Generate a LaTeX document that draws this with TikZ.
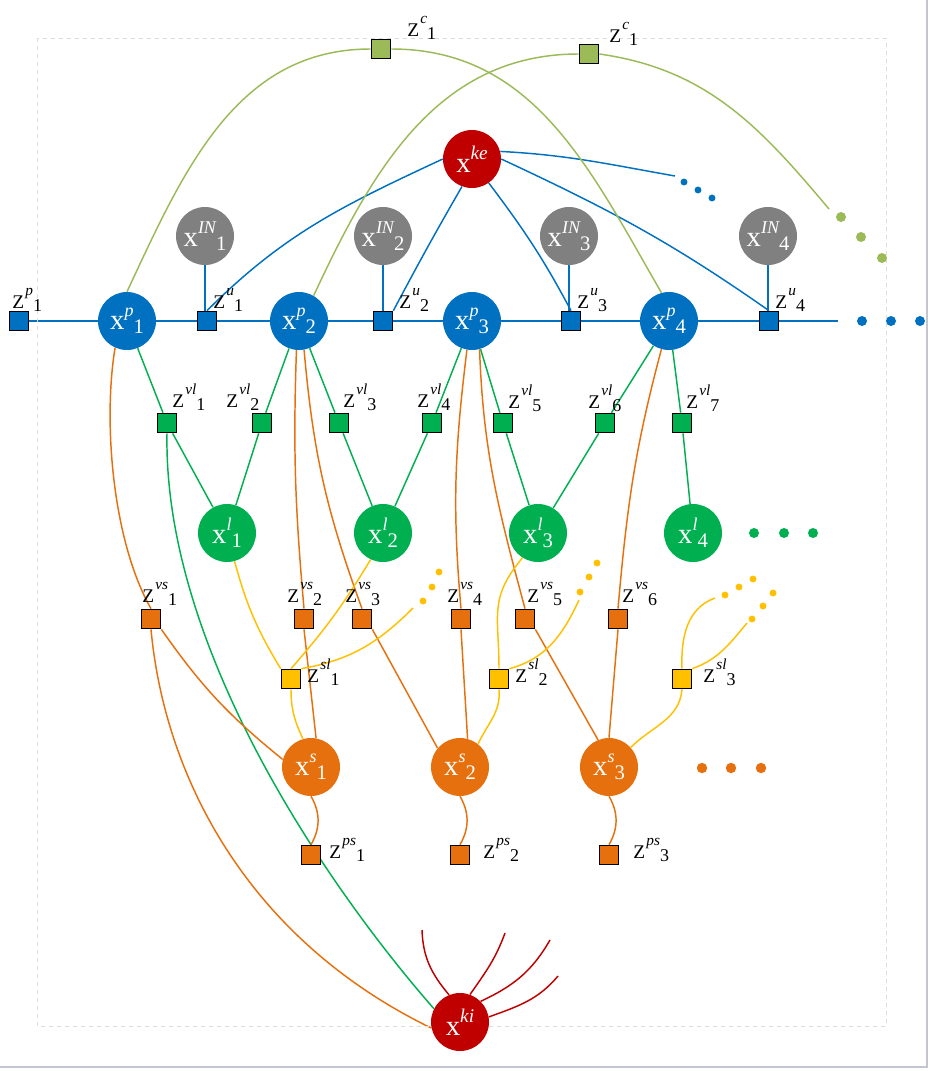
\documentclass[tikz,border=0pt]{standalone}
\usepackage{fontspec}
\setmainfont{Liberation Serif}
\usepackage{tikz}
\usetikzlibrary{
  arrows.meta,
  positioning,
  calc
}
\pgfdeclarelayer{background}
\pgfsetlayers{background,main}
\definecolor{pblue}{RGB}{0, 112, 192}
\definecolor{kred}{RGB}{192, 0, 0}
\definecolor{ingray}{RGB}{128, 128, 128}
\definecolor{lgreen}{RGB}{0, 176, 80}
\definecolor{cgreen}{RGB}{155, 187, 89}
\definecolor{sorange}{RGB}{230, 112, 14}
\definecolor{syellow}{RGB}{255, 192, 0}
\definecolor{framegray}{RGB}{220, 220, 220}
\definecolor{wingray}{RGB}{195, 198, 208}
\newcommand{\vx}[2]{x\raisebox{10pt}{\fontsize{13.5}{13.5}\selectfont\itshape #1}\raisebox{-3pt}{\fontsize{15.5}{15.5}\selectfont #2}}
\newcommand{\zl}[2]{Z\kern1pt\raisebox{9.5pt}{\fontsize{11.5}{11.5}\selectfont\itshape #1}\raisebox{-2.3pt}{\fontsize{13.5}{13.5}\selectfont #2}}
\tikzset{
  vnode/.style = {
    circle, fill=#1, draw=none, minimum size=43.5pt,
    inner sep=0pt, text=white, font=\fontsize{21.5}{21.5}\selectfont
  },
  fsq/.style = {
    rectangle, draw=black, line width=1pt, fill=#1,
    minimum size=14.5pt, inner sep=0pt
  },
  zlbl/.style = {anchor=base west, inner sep=0pt, font=\fontsize{14.5}{14.5}\selectfont},
  wire/.style = {draw=#1, line width=1.1pt},
}

\begin{document}
\begin{tikzpicture}[x=0.75pt, y=-0.75pt]
  \useasboundingbox (0,0) rectangle (929,1071);
  \draw[framegray, dashed, line width=0.5pt] (37,38) rectangle (886,1026);
  \draw[wingray, line width=1.5pt] (927,0) -- (927,1067) -- (0,1067);

  % unit row
  \node[fsq=pblue] (zp1) at (19,321) {};
  \node[vnode=pblue] (xp1) at (127,321) {\vx{p}{1}};
  \node[fsq=pblue] (zu1) at (207,321) {};
  \node[vnode=pblue] (xp2) at (299,321) {\vx{p}{2}};
  \node[fsq=pblue] (zu2) at (383,321) {};
  \node[vnode=pblue] (xp3) at (472,321) {\vx{p}{3}};
  \node[fsq=pblue] (zu3) at (571,321) {};
  \node[vnode=pblue] (xp4) at (669,321) {\vx{p}{4}};
  \node[fsq=pblue] (zu4) at (769,321) {};
  \coordinate (pend) at (838,321);

  % inflow nodes
  \node[vnode=ingray] (xin1) at (205,236) {\vx{IN}{1}};
  \node[vnode=ingray] (xin2) at (383,236) {\vx{IN}{2}};
  \node[vnode=ingray] (xin3) at (569,236) {\vx{IN}{3}};
  \node[vnode=ingray] (xin4) at (768,236) {\vx{IN}{4}};

  % top
  \node[vnode=kred] (xke) at (472,159) {x\raisebox{10pt}{\fontsize{14.5}{14.5}\selectfont\itshape ke}};
  \node[fsq=cgreen] (zc1a) at (381,49) {};
  \node[fsq=cgreen] (zc1b) at (589,54) {};
  \coordinate (cgend) at (829,209);
  \coordinate (kedots) at (675,176);

  % line factors and line nodes
  \node[fsq=lgreen] (vl1) at (167,423) {};
  \node[fsq=lgreen] (vl2) at (262,423) {};
  \node[fsq=lgreen] (vl3) at (339,423) {};
  \node[fsq=lgreen] (vl4) at (432,423) {};
  \node[fsq=lgreen] (vl5) at (503,423) {};
  \node[fsq=lgreen] (vl6) at (605,423) {};
  \node[fsq=lgreen] (vl7) at (682,423) {};
  \node[vnode=lgreen] (xl1) at (227,533) {\vx{l}{1}};
  \node[vnode=lgreen] (xl2) at (383,533) {\vx{l}{2}};
  \node[vnode=lgreen] (xl3) at (538,533) {\vx{l}{3}};
  \node[vnode=lgreen] (xl4) at (693,533) {\vx{l}{4}};

  % station factors
  \node[fsq=sorange] (vs1) at (151,619) {};
  \node[fsq=sorange] (vs2) at (304,619) {};
  \node[fsq=sorange] (vs3) at (362,619) {};
  \node[fsq=sorange] (vs4) at (461,619) {};
  \node[fsq=sorange] (vs5) at (525,619) {};
  \node[fsq=sorange] (vs6) at (618,619) {};
  \node[fsq=syellow] (sl1) at (291,679) {};
  \node[fsq=syellow] (sl2) at (499,679) {};
  \node[fsq=syellow] (sl3) at (682,679) {};
  \coordinate (y1end) at (413,608);
  \coordinate (y2end) at (579,600);
  \coordinate (y3aend) at (715,598);
  \coordinate (y3bend) at (747,623);

  % station nodes
  \node[vnode=sorange] (xs1) at (311,767) {\vx{s}{1}};
  \node[vnode=sorange] (xs2) at (460,767) {\vx{s}{2}};
  \node[vnode=sorange] (xs3) at (609,767) {\vx{s}{3}};
  \node[fsq=sorange] (ps1) at (311,855) {};
  \node[fsq=sorange] (ps2) at (460,855) {};
  \node[fsq=sorange] (ps3) at (609,855) {};

  % bottom
  \node[vnode=kred] (xki) at (460,1022) {x\raisebox{10pt}{\fontsize{14.5}{14.5}\selectfont\itshape ki}};
  \coordinate (k1) at (422,930);
  \coordinate (k2) at (505,933);
  \coordinate (k3) at (550,940);
  \coordinate (k4) at (558,976);

  % labels
  \node[zlbl] (lzp1) at (12,308) {\zl{p}{1}};
  \node[zlbl] (lzu1) at (213,308) {\zl{u}{1}};
  \node[zlbl] (lzu2) at (399,308) {\zl{u}{2}};
  \node[zlbl] (lzu3) at (577,308) {\zl{u}{3}};
  \node[zlbl] (lzu4) at (775,308) {\zl{u}{4}};
  \node[zlbl] (lzc1a) at (407,36) {\zl{c}{1}};
  \node[zlbl] (lzc1b) at (609,42) {\zl{c}{1}};
  \node[zlbl] (lvl1) at (172,407) {\zl{vl}{1}};
  \node[zlbl] (lvl2) at (226,407) {\zl{vl}{2}};
  \node[zlbl] (lvl3) at (343,407) {\zl{vl}{3}};
  \node[zlbl] (lvl4) at (417,407) {\zl{vl}{4}};
  \node[zlbl] (lvl5) at (508,408) {\zl{vl}{5}};
  \node[zlbl] (lvl6) at (588,408) {\zl{vl}{6}};
  \node[zlbl] (lvl7) at (686,408) {\zl{vl}{7}};
  \node[zlbl] (lvs1) at (142,602) {\zl{vs}{1}};
  \node[zlbl] (lvs2) at (287,602) {\zl{vs}{2}};
  \node[zlbl] (lvs3) at (345,602) {\zl{vs}{3}};
  \node[zlbl] (lvs4) at (447,602) {\zl{vs}{4}};
  \node[zlbl] (lvs5) at (527,602) {\zl{vs}{5}};
  \node[zlbl] (lvs6) at (622,602) {\zl{vs}{6}};
  \node[zlbl] (lsl1) at (307,682) {\zl{sl}{1}};
  \node[zlbl] (lsl2) at (515,682) {\zl{sl}{2}};
  \node[zlbl] (lsl3) at (703,682) {\zl{sl}{3}};
  \node[zlbl] (lps1) at (329,858) {\zl{ps}{1}};
  \node[zlbl] (lps2) at (483,858) {\zl{ps}{2}};
  \node[zlbl] (lps3) at (633,858) {\zl{ps}{3}};

  % dots
  \fill[pblue] (862,321) circle[radius=3.75pt] (891,321) circle[radius=3.75pt] (920,321) circle[radius=3.75pt];
  \fill[pblue] (684,182) circle[radius=2.6pt] (698,190) circle[radius=2.6pt] (712,198) circle[radius=2.6pt];
  \fill[cgreen] (841,217) circle[radius=3.75pt] (861,237) circle[radius=3.75pt] (882,258) circle[radius=3.75pt];
  \fill[lgreen] (754,533) circle[radius=3.75pt] (784,533) circle[radius=3.75pt] (813,533) circle[radius=3.75pt];
  \fill[sorange] (702,768) circle[radius=3.9pt] (731,768) circle[radius=3.9pt] (761,768) circle[radius=3.9pt];
  \fill[syellow] (423,601) circle[radius=2.6pt] (432,587) circle[radius=2.6pt] (439,572) circle[radius=2.6pt];
  \fill[syellow] (580,592) circle[radius=2.6pt] (589,577) circle[radius=2.6pt] (597,563) circle[radius=2.6pt];
  \fill[syellow] (725,595) circle[radius=2.6pt] (739,587) circle[radius=2.6pt] (753,579) circle[radius=2.6pt];
  \fill[syellow] (752,619) circle[radius=2.6pt] (763,606) circle[radius=2.6pt] (773,593) circle[radius=2.6pt];

  \begin{pgfonlayer}{background}
  % unit row
  \draw[wire=pblue] (zp1) -- (xp1) -- (zu1) -- (xp2) -- (zu2) -- (xp3) -- (zu3) -- (xp4) -- (zu4) -- (pend);
  \draw[wire=pblue] (xin1.south) -- (xin1.south |- zu1.north);
  \draw[wire=pblue] (xin2.south) -- (xin2.south |- zu2.north);
  \draw[wire=pblue] (xin3.south) -- (xin3.south |- zu3.north);
  \draw[wire=pblue] (xin4.south) -- (xin4.south |- zu4.north);
  \draw[wire=pblue] (xke.west) to[out=205,in=45] (zu1.north);
  \draw[wire=pblue] (xke.250) to[out=240,in=62] (zu2.north east);
  \draw[wire=pblue] (xke.305) to[out=-53,in=118] (zu3.north);
  \draw[wire=pblue] (xke.east) to[out=-25,in=145] (zu4.north);
  \draw[wire=pblue] (xke.15) to[out=-3,in=170] (kedots);

  % coupling
  \draw[wire=cgreen] (xp1.north) to[out=65,in=180] (zc1a.west);
  \draw[wire=cgreen] (zc1a.east) to[out=0,in=120] (xp4.105);
  \draw[wire=cgreen] (xp2.60) to[out=65,in=180] (zc1b.west);
  \draw[wire=cgreen] (zc1b.east) to[out=-8,in=130] (cgend);

  % line links
  \draw[wire=lgreen] (xp1) -- (vl1) -- (xl1);
  \draw[wire=lgreen] (xp2) -- (vl2) -- (xl1);
  \draw[wire=lgreen] (xp2) -- (vl3) -- (xl2);
  \draw[wire=lgreen] (xp3) -- (vl4) -- (xl2);
  \draw[wire=lgreen] (xp3) -- (vl5) -- (xl3);
  \draw[wire=lgreen] (xp4) -- (vl6) -- (xl3);
  \draw[wire=lgreen] (xp4) -- (vl7) -- (xl4);
  \draw[wire=lgreen] (vl1.south) .. controls (163,650) and (330,890) .. (xki.153);

  % station links
  \draw[wire=sorange] (xp1.246) .. controls (103,420) and (112,540) .. (vs1.north);
  \draw[wire=sorange] (vs1.south) .. controls (165,780) and (250,940) .. (xki.192);
  \draw[wire=sorange] (vs1.south east) to[bend right=8] (xs1.165);
  \draw[wire=sorange] (xp2.265) to[out=-92,in=95] (vs2.north);
  \draw[wire=sorange] (vs2.south) -- (xs1.80);
  \draw[wire=sorange] (xp2.280) to[out=-85,in=110] (vs3.north);
  \draw[wire=sorange] (vs3.south east) -- (xs2.140);
  \draw[wire=sorange] (xp3.260) to[out=-97,in=95] (vs4.north);
  \draw[wire=sorange] (vs4.south) -- (xs2.75);
  \draw[wire=sorange] (xp3.285) to[out=-88,in=105] (vs5.north);
  \draw[wire=sorange] (vs5.south east) -- (xs3.112);
  \draw[wire=sorange] (xp4.255) to[out=-105,in=85] (vs6.north);
  \draw[wire=sorange] (vs6.south) -- (xs3.north);
  \draw[wire=sorange] (xs1.south) to[out=-60,in=60] (ps1.north);
  \draw[wire=sorange] (xs2.south) to[out=-60,in=60] (ps2.north);
  \draw[wire=sorange] (xs3.south) to[out=-60,in=60] (ps3.north);

  % slot links
  \draw[wire=syellow] (xl1.285) to[bend right=8] (sl1.north west);
  \draw[wire=syellow] (xl2.245) to[bend left=5] (sl1.north);
  \draw[wire=syellow] (sl1.north east) to[out=10,in=-135] (y1end);
  \draw[wire=syellow] (sl1.south) to[out=-90,in=115] (xs1.106);
  \draw[wire=syellow] (xl3.238) to[out=-130,in=90,looseness=1.2] (sl2.north);
  \draw[wire=syellow] (sl2.north east) to[out=15,in=-115] (y2end);
  \draw[wire=syellow] (sl2.south) to[out=-85,in=65] (xs2.52);
  \draw[wire=syellow] (sl3.north) to[out=92,in=200] (y3aend);
  \draw[wire=syellow] (sl3.north east) to[out=20,in=-130] (y3bend);
  \draw[wire=syellow] (sl3.south) to[out=-95,in=45] (xs3.42);

  % ki stubs
  \draw[wire=kred] (xki.112) to[out=130,in=-88] (k1);
  \draw[wire=kred] (xki.70) to[out=55,in=-110] (k2);
  \draw[wire=kred] (xki.45) to[out=25,in=-120] (k3);
  \draw[wire=kred] (xki.10) to[out=20,in=-130] (k4);
  \end{pgfonlayer}
\end{tikzpicture}
\end{document}
